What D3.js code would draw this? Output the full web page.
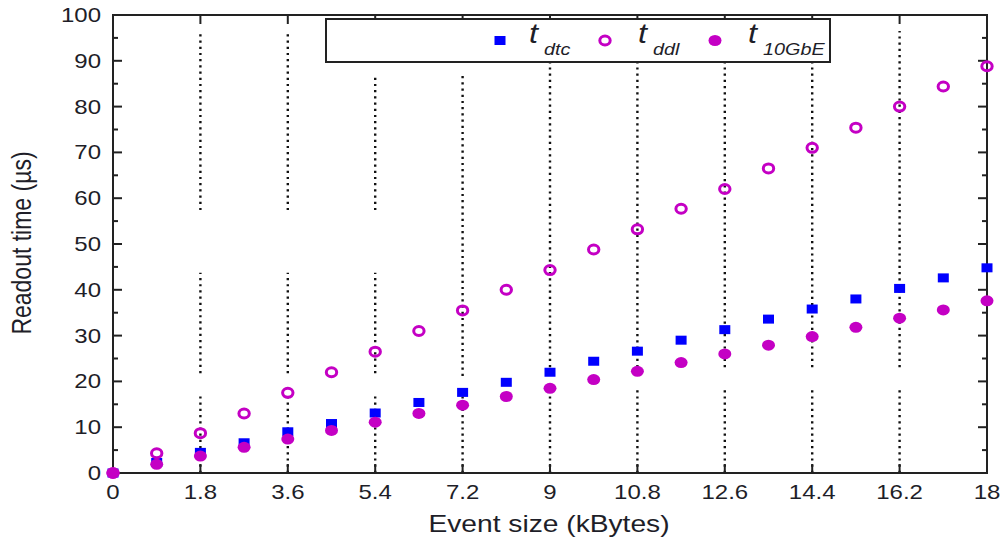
<!DOCTYPE html>
<html>
<head>
<meta charset="utf-8">
<script src="https://cdn.jsdelivr.net/npm/d3@7"></script>
<style>
  body { margin: 0; background: #fff; }
  text { font-family: "Liberation Sans", Arial, sans-serif; fill: #1e1e28; }
</style>
</head>
<body>
<div id="chart"></div>
<script>
// Daten
const eventSize = [0, 0.9, 1.8, 2.7, 3.6, 4.5, 5.4, 6.3, 7.2, 8.1, 9, 9.9, 10.8, 11.7, 12.6, 13.5, 14.4, 15.3, 16.2, 17.1, 18];
const tDtc = [0, 2.3, 4.5, 6.6, 9, 10.8, 13.1, 15.4, 17.6, 19.8, 22, 24.4, 26.6, 29, 31.3, 33.6, 35.8, 38, 40.3, 42.6, 44.8];
const tDdl = [0, 4.3, 8.7, 13, 17.5, 22, 26.5, 31, 35.5, 40, 44.3, 48.8, 53.2, 57.7, 62, 66.5, 71, 75.4, 80, 84.4, 88.8];
const t10GbE = [0, 1.9, 3.7, 5.6, 7.4, 9.3, 11.1, 13, 14.8, 16.7, 18.5, 20.4, 22.2, 24.1, 26, 27.9, 29.8, 31.8, 33.8, 35.6, 37.6];
const xTicks = [0, 1.8, 3.6, 5.4, 7.2, 9, 10.8, 12.6, 14.4, 16.2, 18];
const yTicks = [0, 10, 20, 30, 40, 50, 60, 70, 80, 90, 100];
const yMinorTicks = [5, 15, 25, 35, 45, 55, 65, 75, 85, 95];
// sichtbare Abschnitte der gepunkteten Gitterlinien (wie im Original unterbrochen)
const gridSegments = [
  [1.8, [[0, 17.5], [21.8, 43.7], [57.4, 96.5]]],
  [3.6, [[0, 17.5], [21.8, 43.7], [57.4, 96.5]]],
  [5.4, [[0, 17.5], [21.8, 43.7], [57.4, 87]]],
  [7.2, [[0, 16.8], [21.2, 87]]],
  [9, [[0, 18.1], [23.1, 96.5]]],
  [10.8, [[0, 18.1], [23.1, 96.5]]],
  [12.6, [[0, 18.1], [23.1, 96.5]]],
  [14.4, [[0, 18.1], [23.1, 96.5]]],
  [16.2, [[0, 18.1], [23.1, 96.5]]]
];

const width = 1004, height = 545;
const margin = {top: 15, right: 17, bottom: 72, left: 113};
const magenta = "#c400c4";
const stretch = 1.2; // Schrift im Original horizontal gestreckt

const svg = d3.select("#chart").append("svg")
  .attr("width", width).attr("height", height);

const x = d3.scaleLinear().domain([0, 18]).range([margin.left, width - margin.right]);
const y = d3.scaleLinear().domain([0, 100]).range([height - margin.bottom, margin.top]);

// Gitterlinien
const grid = svg.append("g")
  .attr("stroke", "#111").attr("stroke-width", 2.4).attr("stroke-dasharray", "2.2,4");
gridSegments.forEach(([t, segs]) => {
  segs.forEach(([a, b]) => {
    grid.append("line")
      .attr("x1", x(t)).attr("x2", x(t))
      .attr("y1", y(a)).attr("y2", y(b));
  });
});

// Achsen
const frame = svg.append("g").attr("stroke", "#222").attr("fill", "none");
frame.append("rect")
  .attr("x", x(0)).attr("y", y(100))
  .attr("width", x(18) - x(0)).attr("height", y(0) - y(100))
  .attr("stroke-width", 2);

yTicks.slice(1, -1).forEach(v => {
  frame.append("line").attr("x1", x(0)).attr("x2", x(0) + 9).attr("y1", y(v)).attr("y2", y(v)).attr("stroke-width", 2);
  frame.append("line").attr("x1", x(18)).attr("x2", x(18) - 9).attr("y1", y(v)).attr("y2", y(v)).attr("stroke-width", 2);
});
yMinorTicks.forEach(v => {
  frame.append("line").attr("x1", x(0)).attr("x2", x(0) + 5).attr("y1", y(v)).attr("y2", y(v)).attr("stroke-width", 2);
  frame.append("line").attr("x1", x(18)).attr("x2", x(18) - 5).attr("y1", y(v)).attr("y2", y(v)).attr("stroke-width", 2);
});
xTicks.slice(1, -1).forEach(v => {
  frame.append("line").attr("x1", x(v)).attr("x2", x(v)).attr("y1", y(100)).attr("y2", y(100) + 9).attr("stroke-width", 2);
  frame.append("line").attr("x1", x(v)).attr("x2", x(v)).attr("y1", y(0)).attr("y2", y(0) - 9).attr("stroke-width", 2);
});

// Beschriftungen
svg.append("g").selectAll("text").data(yTicks).join("text")
  .attr("transform", d => `translate(${x(0) - 12},${y(d) + 7}) scale(${stretch},1)`)
  .attr("text-anchor", "end").attr("font-size", 20)
  .text(d => d);

svg.append("g").selectAll("text").data(xTicks).join("text")
  .attr("transform", d => `translate(${x(d)},${y(0) + 26}) scale(${stretch},1)`)
  .attr("text-anchor", "middle").attr("font-size", 20)
  .text(d => d);

svg.append("text")
  .attr("transform", `translate(549,532) scale(${stretch},1)`)
  .attr("text-anchor", "middle").attr("font-size", 23.5)
  .text("Event size (kBytes)");

svg.append("text")
  .attr("transform", `translate(31,243) scale(${stretch},1) rotate(-90)`)
  .attr("text-anchor", "middle").attr("font-size", 23)
  .text("Readout time (µs)");

// Datenpunkte
const pts = (vals) => eventSize.map((d, i) => ({x: d, y: vals[i]}));

svg.append("g").selectAll("rect").data(pts(tDtc)).join("rect")
  .attr("x", d => x(d.x) - 5.5).attr("y", d => y(d.y) - 4.5)
  .attr("width", 11).attr("height", 9)
  .attr("fill", "#0000ff");

svg.append("g").selectAll("ellipse").data(pts(tDdl)).join("ellipse")
  .attr("cx", d => x(d.x)).attr("cy", d => y(d.y))
  .attr("rx", 5.2).attr("ry", 4.5)
  .attr("fill", "none").attr("stroke", magenta).attr("stroke-width", 3);

svg.append("g").selectAll("ellipse").data(pts(t10GbE)).join("ellipse")
  .attr("cx", d => x(d.x)).attr("cy", d => y(d.y))
  .attr("rx", 6.5).attr("ry", 5.5)
  .attr("fill", magenta);

// Legende
const legend = svg.append("g");
legend.append("rect")
  .attr("x", 326).attr("y", 19).attr("width", 504).attr("height", 43)
  .attr("fill", "#fff").attr("stroke", "#222").attr("stroke-width", 2);

const legendItems = [
  {sub: "dtc", mx: 500, tx: 529, shape: "square"},
  {sub: "ddl", mx: 605, tx: 638, shape: "open"},
  {sub: "10GbE", mx: 715, tx: 748, shape: "filled"}
];
legendItems.forEach(d => {
  if (d.shape === "square") {
    legend.append("rect").attr("x", d.mx - 5.5).attr("y", 36).attr("width", 11).attr("height", 9).attr("fill", "#0000ff");
  } else if (d.shape === "open") {
    legend.append("ellipse").attr("cx", d.mx).attr("cy", 40.5).attr("rx", 5.2).attr("ry", 4.5)
      .attr("fill", "none").attr("stroke", magenta).attr("stroke-width", 3);
  } else {
    legend.append("ellipse").attr("cx", d.mx).attr("cy", 40.5).attr("rx", 6.5).attr("ry", 5.5).attr("fill", magenta);
  }
  const t = legend.append("text")
    .attr("transform", `translate(${d.tx},43) scale(${stretch},1)`)
    .attr("font-size", 27).attr("font-style", "italic");
  t.append("tspan").text("t");
  t.append("tspan").attr("dy", 12).attr("dx", 5).attr("font-size", 16.5).text(d.sub);
});
</script>
</body>
</html>
